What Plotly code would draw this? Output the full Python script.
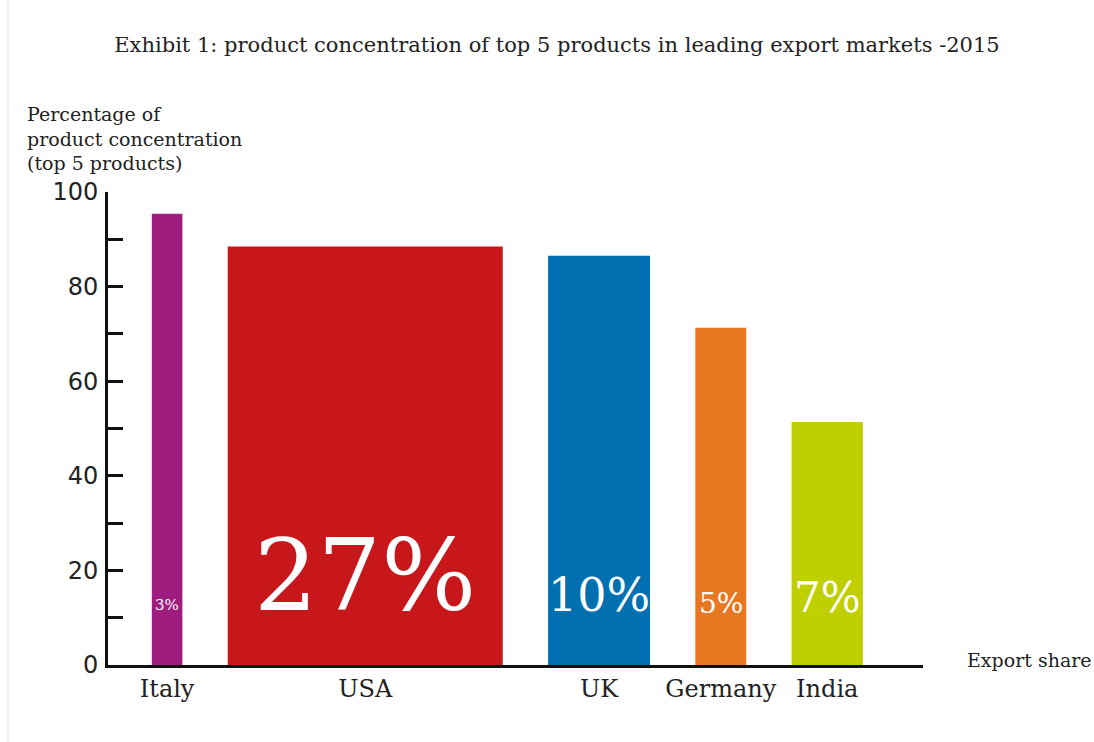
import plotly.graph_objects as go

countries = ["Italy", "USA", "UK", "Germany", "India"]
concentration = [95.4, 88.5, 86.5, 71.3, 51.4]
export_share = [3, 27, 10, 5, 7]
share_labels = ["3%", "27%", "10%", "5%", "7%"]
colors = ["#9E1C7E", "#C8171A", "#0070B0", "#E87722", "#BFCF00"]

# layout helpers (positions derived from the export shares)
gap = 4.45
start = 4.3
label_y = [12.7, 19.0, 14.8, 13.1, 14.2]
label_size = [15, 100, 46, 28, 42]

centers = []
pos = start
for w in export_share:
    centers.append(pos + w / 2)
    pos += w + gap

W, H = 1094, 742
L, T = 108, 192
R = W - 923
B = H - 665
pw = W - L - R

def px_x(px):
    return (px - L) / pw

fig = go.Figure()
fig.add_trace(go.Bar(
    x=centers, y=concentration, width=export_share,
    marker=dict(color=colors, line=dict(width=0)),
    hoverinfo="skip", showlegend=False,
))

for cx, ly, txt, sz in zip(centers, label_y, share_labels, label_size):
    fig.add_annotation(x=cx, y=ly, text=txt, showarrow=False,
                       font=dict(family="DejaVu Serif", size=sz, color="white"),
                       xanchor="center", yanchor="middle")

fig.add_annotation(x=px_x(965), y=0, xref="paper", yref="paper",
                   text="Export share", showarrow=False,
                   font=dict(family="DejaVu Serif", size=19, color="#222"),
                   xanchor="left", yanchor="bottom", yshift=-8)

fig.add_annotation(x=px_x(25), y=1, xref="paper", yref="paper",
                   text="Percentage of<br>product concentration<br>(top 5 products)",
                   showarrow=False, align="left",
                   font=dict(family="DejaVu Serif", size=19, color="#222"),
                   xanchor="left", yanchor="bottom", yshift=16)

fig.add_shape(type="line", xref="paper", yref="paper",
              x0=px_x(8), x1=px_x(8), y0=-0.2, y1=1.45,
              line=dict(color="#dddddd", width=1))

fig.update_layout(
    width=W, height=H,
    margin=dict(l=L, r=R, t=T, b=B),
    paper_bgcolor="white", plot_bgcolor="white",
    title=dict(text="Exhibit 1: product concentration of top 5 products in leading export markets -2015",
               x=557 / W, xanchor="center", y=1 - 45 / H, yanchor="middle",
               font=dict(family="DejaVu Serif", size=21, color="#222")),
    xaxis=dict(range=[0, 80], tickmode="array", tickvals=centers, ticktext=countries,
               showline=True, linecolor="#111", linewidth=3, ticks="",
               showgrid=False, zeroline=False,
               tickfont=dict(family="DejaVu Serif", size=24, color="#222")),
    yaxis=dict(range=[0, 100], dtick=20, tick0=0, showline=True, linecolor="#111",
               linewidth=3, ticks="inside", ticklen=15, tickwidth=3, tickcolor="#111",
               minor=dict(dtick=10, ticks="inside", ticklen=15, tickwidth=3, tickcolor="#111"),
               showgrid=False, zeroline=False, ticklabelstandoff=2,
               tickfont=dict(family="DejaVu Sans", size=24, color="#222")),
)

fig.write_html("out.html", config={"displayModeBar": False},
               post_script="document.body.style.margin='0';document.body.style.overflow='hidden';")
